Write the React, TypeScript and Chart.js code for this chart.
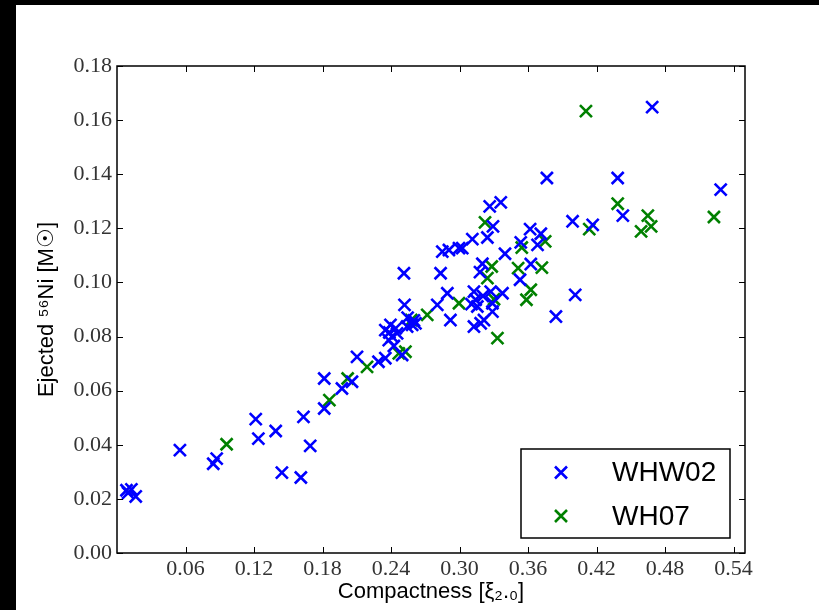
import React, { useEffect, useRef } from "react";
import { Chart, registerables } from "chart.js";
Chart.register(...registerables);

const whw02X = [0.0083, 0.0126, 0.0097, 0.0164, 0.0551, 0.0843, 0.0873, 0.1215, 0.1238, 0.139, 0.1444, 0.161, 0.1633, 0.1692, 0.1815, 0.1815, 0.197, 0.2058, 0.2102, 0.229, 0.235, 0.235, 0.2395, 0.238, 0.2453, 0.2541, 0.2614, 0.2497, 0.2518, 0.2513, 0.2585, 0.2805, 0.2834, 0.2849, 0.2907, 0.2995, 0.2893, 0.292, 0.3024, 0.3112, 0.3244, 0.3293, 0.3264, 0.3361, 0.3398, 0.32, 0.3179, 0.3126, 0.3273, 0.3376, 0.3141, 0.3156, 0.3288, 0.3126, 0.3185, 0.3214, 0.3288, 0.3536, 0.3618, 0.3712, 0.3683, 0.3624, 0.353, 0.3765, 0.3844, 0.399, 0.4013, 0.4166, 0.4385, 0.443, 0.4687, 0.5287, 0.241, 0.244, 0.2385, 0.2545, 0.26, 0.2425, 0.3105, 0.3205];
const whw02Y = [0.0232, 0.0235, 0.0222, 0.0209, 0.038, 0.033, 0.0349, 0.0495, 0.0423, 0.0451, 0.0297, 0.0279, 0.0503, 0.0396, 0.0645, 0.0534, 0.0608, 0.0633, 0.0725, 0.0707, 0.072, 0.0824, 0.0843, 0.0787, 0.0812, 0.0837, 0.0849, 0.0732, 0.0917, 0.1034, 0.0843, 0.0917, 0.1034, 0.1114, 0.112, 0.1127, 0.096, 0.0861, 0.1127, 0.116, 0.1166, 0.1207, 0.1281, 0.1296, 0.1106, 0.1069, 0.1038, 0.0966, 0.0966, 0.096, 0.0936, 0.0911, 0.0923, 0.0837, 0.0849, 0.0861, 0.0892, 0.1148, 0.1197, 0.118, 0.1139, 0.1068, 0.101, 0.1386, 0.0874, 0.1226, 0.0954, 0.1213, 0.1386, 0.1247, 0.1648, 0.1343, 0.08, 0.083, 0.0815, 0.087, 0.086, 0.0765, 0.092, 0.095];

const wh07X = [0.096, 0.186, 0.202, 0.219, 0.2468, 0.2526, 0.2577, 0.2717, 0.2995, 0.3223, 0.3282, 0.3244, 0.3302, 0.3332, 0.3513, 0.3545, 0.375, 0.3721, 0.3624, 0.3586, 0.4107, 0.4136, 0.4385, 0.459, 0.4649, 0.4678, 0.5228];
const wh07Y = [0.0402, 0.0565, 0.0645, 0.0688, 0.0738, 0.0744, 0.0861, 0.088, 0.0923, 0.1222, 0.1059, 0.1016, 0.0938, 0.0794, 0.1053, 0.1129, 0.1152, 0.1055, 0.0973, 0.0936, 0.1633, 0.1197, 0.1291, 0.1189, 0.1247, 0.1207, 0.1242];

const seriesLabels = ["WHW02", "WH07"];
const seriesColors = ["#0000ff", "#008000"];
const xTicks = [0.06, 0.12, 0.18, 0.24, 0.3, 0.36, 0.42, 0.48, 0.54];
const yTicks = [0, 0.02, 0.04, 0.06, 0.08, 0.1, 0.12, 0.14, 0.16, 0.18];
const xTitle = "Compactness [ξ₂.₀]";
const yTitle = "Ejected ⁵⁶Ni [M☉]";

const toPoints = (xs: number[], ys: number[]) => xs.map((x, i) => ({ x, y: ys[i] }));

function crossAt(ctx: CanvasRenderingContext2D, x: number, y: number, h: number) {
  ctx.beginPath();
  ctx.moveTo(x - h, y - h);
  ctx.lineTo(x + h, y + h);
  ctx.moveTo(x - h, y + h);
  ctx.lineTo(x + h, y - h);
  ctx.stroke();
}

const framePlugin = {
  id: "frame",
  afterDatasetsDraw(chart: any) {
    const { ctx, chartArea: a, scales } = chart;
    const xs = scales.x;
    const ys = scales.y;
    ctx.save();
    ctx.strokeStyle = "#000";
    ctx.lineWidth = 1;
    const L = 6;
    xTicks.forEach((v) => {
      const px = Math.round(xs.getPixelForValue(v)) + 0.5;
      ctx.beginPath();
      ctx.moveTo(px, a.bottom);
      ctx.lineTo(px, a.bottom - L);
      ctx.moveTo(px, a.top);
      ctx.lineTo(px, a.top + L);
      ctx.stroke();
    });
    yTicks.forEach((v) => {
      const py = Math.round(ys.getPixelForValue(v)) + 0.5;
      ctx.beginPath();
      ctx.moveTo(a.left, py);
      ctx.lineTo(a.left + L, py);
      ctx.moveTo(a.right, py);
      ctx.lineTo(a.right - L, py);
      ctx.stroke();
    });
    ctx.lineWidth = 1.5;
    ctx.strokeRect(a.left, a.top, a.right - a.left, a.bottom - a.top);

    // legend
    const bw = 209;
    const bh = 89;
    const bx = a.right - 15 - bw;
    const by = a.bottom - 15 - bh;
    ctx.fillStyle = "#fff";
    ctx.fillRect(bx, by, bw, bh);
    ctx.lineWidth = 1.5;
    ctx.strokeStyle = "#000";
    ctx.strokeRect(bx, by, bw, bh);
    chart.data.datasets.forEach((ds: any, i: number) => {
      const cy = by + 23.5 + i * 43.5;
      const cx = bx + 40;
      ctx.strokeStyle = ds.borderColor;
      ctx.lineWidth = 2.6;
      crossAt(ctx, cx, cy, 6);
      ctx.fillStyle = "#000";
      ctx.font = "28px 'Liberation Sans', Arial, sans-serif";
      ctx.textAlign = "left";
      ctx.textBaseline = "middle";
      ctx.fillText(ds.label, bx + 91, cy + 1);
    });
    ctx.restore();
  },
};

export default function App() {
  const ref = useRef<HTMLCanvasElement>(null);
  useEffect(() => {
    if (!ref.current) return;
    const tickFont = { family: "'Liberation Serif', 'DejaVu Serif', serif", size: 22 };
    const titleFont = { family: "'Liberation Sans', Arial, sans-serif", size: 22 };
    const chart = new Chart(ref.current, {
      type: "scatter",
      data: {
        datasets: [
          {
            label: seriesLabels[0],
            data: toPoints(whw02X, whw02Y),
            pointStyle: "crossRot",
            pointRadius: 8.5,
            pointHoverRadius: 8.5,
            borderColor: seriesColors[0],
            backgroundColor: seriesColors[0],
            borderWidth: 2.6,
            pointBorderWidth: 2.6,
          },
          {
            label: seriesLabels[1],
            data: toPoints(wh07X, wh07Y),
            pointStyle: "crossRot",
            pointRadius: 8.5,
            pointHoverRadius: 8.5,
            borderColor: seriesColors[1],
            backgroundColor: seriesColors[1],
            borderWidth: 2.6,
            pointBorderWidth: 2.6,
          },
        ],
      },
      options: {
        responsive: false,
        animation: false,
        layout: { padding: { left: 0, top: 61, right: 74, bottom: 0 } },
        plugins: { legend: { display: false }, tooltip: { enabled: false } },
        scales: {
          x: {
            type: "linear",
            min: 0,
            max: 0.55,
            grid: { display: false },
            border: { display: false },
            afterBuildTicks: (s: any) => {
              s.ticks = xTicks.map((v) => ({ value: v }));
            },
            afterFit: (s: any) => {
              s.height = 57;
            },
            ticks: {
              font: tickFont,
              color: "#333",
              padding: -5,
              maxRotation: 0,
              autoSkip: false,
              callback: (v: any) => Number(v).toFixed(2),
            },
            title: { display: true, text: xTitle, font: titleFont, color: "#000", padding: { top: 5, bottom: 5 } },
          },
          y: {
            type: "linear",
            min: 0,
            max: 0.18,
            grid: { display: false },
            border: { display: false },
            afterBuildTicks: (s: any) => {
              s.ticks = yTicks.map((v) => ({ value: v }));
            },
            afterFit: (s: any) => {
              s.width = 101;
            },
            ticks: {
              font: tickFont,
              color: "#333",
              padding: -3,
              autoSkip: false,
              callback: (v: any) => Number(v).toFixed(2),
            },
            title: { display: true, text: yTitle, font: titleFont, color: "#000", padding: { top: 18, bottom: 18 } },
          },
        },
      },
      plugins: [framePlugin],
    } as any);
    return () => chart.destroy();
  }, []);
  return (
    <div style={{ position: "fixed", left: 0, top: 0, width: 819, height: 610, background: "#000" }}>
      <div style={{ position: "absolute", left: 16, top: 5, width: 803, height: 605, background: "#fff" }}>
        <canvas ref={ref} width={803} height={605} style={{ display: "block" }} />
      </div>
    </div>
  );
}
